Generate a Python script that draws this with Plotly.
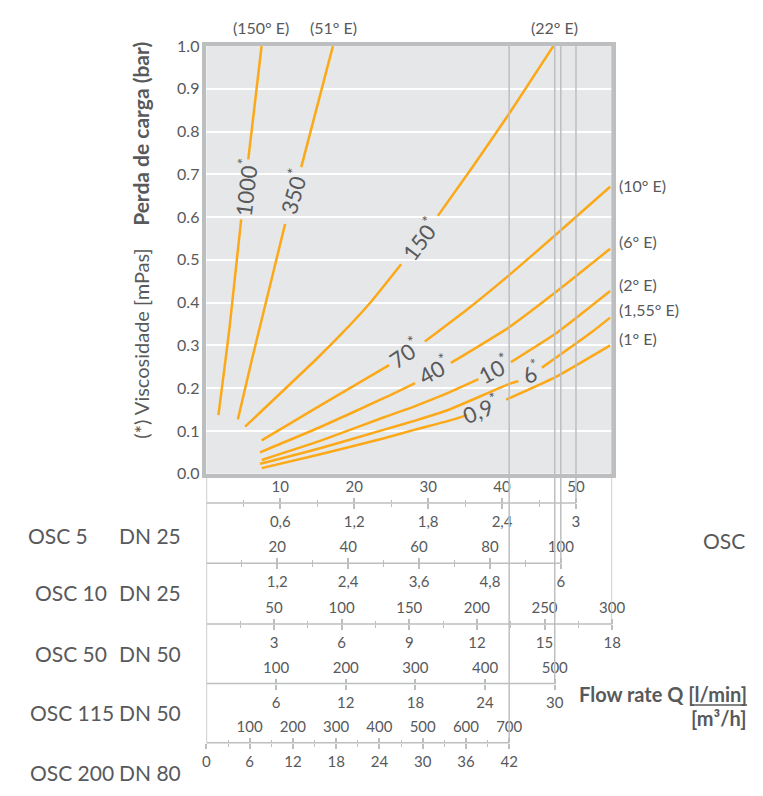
import plotly.graph_objects as go

W, H = 763, 796

# ---------------- data (x in OSC 5 l/min units, y in bar) ----------------
c1000_x = [1.63, 2.74, 3.17, 4.72, None, 5.68, 7.48]
c1000_y = [0.137, 0.286, 0.347, 0.595, None, 0.735, 1.0]

c350_x = [4.27, 6.17, 10.67, None, 12.86, 17.15]
c350_y = [0.127, 0.267, 0.584, None, 0.717, 1.0]

c150_x = [5.25, 14.85, 18.60, 22.12, 26.40, None, 31.37, 36.22, 41.08, 47.03]
c150_y = [0.110, 0.267, 0.332, 0.398, 0.490, None, 0.603, 0.721, 0.843, 1.0]

c70_x = [7.50, 15.30, 24.76, None, 29.61, 35.34, 41.08, 47.24, 54.73]
c70_y = [0.078, 0.158, 0.254, None, 0.309, 0.384, 0.465, 0.557, 0.671]

c40_x = [7.27, 15.30, 24.10, 28.29, None, 33.14, 41.08, 47.24, 54.73]
c40_y = [0.050, 0.108, 0.177, 0.212, None, 0.259, 0.343, 0.423, 0.526]

c10_x = [7.50, 15.30, 24.10, 28.29, 32.92, 36.88, None, 41.29, 47.70, 54.73]
c10_y = [0.032, 0.076, 0.132, 0.158, 0.190, 0.221, None, 0.261, 0.332, 0.427]

c6_x = [7.27, 15.30, 24.10, 28.29, 32.92, 41.08, 42.30, None, 45.48, 52.30, 54.73]
c6_y = [0.023, 0.059, 0.103, 0.124, 0.150, 0.210, 0.216, None, 0.248, 0.332, 0.365]

c09_x = [7.50, 15.30, 24.10, 28.29, 32.92, 35.34, None, 40.63, 47.24, 54.73]
c09_y = [0.013, 0.045, 0.083, 0.103, 0.124, 0.137, None, 0.173, 0.225, 0.300]

curves_x = [c1000_x, c350_x, c150_x, c70_x, c40_x, c10_x, c6_x, c09_x]
curves_y = [c1000_y, c350_y, c150_y, c70_y, c40_y, c10_y, c6_y, c09_y]

visc_labels = ["1000", "350", "150", "70", "40", "10", "6", "0,9"]
engler_top = ["(150° E)", "(51° E)", "(22° E)"]
engler_right = ["(10° E)", "(6° E)", "(2° E)", "(1,55° E)", "(1° E)"]

y_ticks = [0.0, 0.1, 0.2, 0.3, 0.4, 0.5, 0.6, 0.7, 0.8, 0.9, 1.0]

# flow scales: l/min ticks (top) and m3/h ticks (bottom)
pump_names = ["OSC 5", "OSC 10", "OSC 50", "OSC 115", "OSC 200"]
pump_dn = ["DN 25", "DN 25", "DN 50", "DN 50", "DN 80"]
lmin_ticks = [
    [10, 20, 30, 40, 50],
    [20, 40, 60, 80, 100],
    [50, 100, 150, 200, 250, 300],
    [100, 200, 300, 400, 500],
    [100, 200, 300, 400, 500, 600, 700],
]
lmin_minor = [
    [5, 15, 25, 35, 45],
    [10, 30, 50, 70, 90],
    [25, 75, 125, 175, 225, 275],
    [],
    [50, 150, 250, 350, 450, 550, 650],
]
m3h_ticks = [
    [0.6, 1.2, 1.8, 2.4, 3],
    [1.2, 2.4, 3.6, 4.8, 6],
    [3, 6, 9, 12, 15, 18],
    [6, 12, 18, 24, 30],
    [0, 6, 12, 18, 24, 30, 36, 42],
]
lmin_max = [50, 100, 300, 500, 700]

# ---------------- layout helpers ----------------
def px(x):
    return x / W

def py(y):
    return (H - y) / H

X0, X1 = 207, 622
Y_TOP, Y_BOT = 37, 475
scale_end_px = [585, 569.5, 622, 563.3, 516.7]
scale_line_px = [505, 566.7, 629, 690, 750.7]
label_rows_px = [538, 597, 659, 720, 781]
name_left_px = [25, 32, 32, 27, 27]

TXT = "#58595B"
GRAY = "#BDBEC0"
ORANGE = "#FBA919"
FONT = "Lato"

fig = go.Figure()
for cx, cy in zip(curves_x, curves_y):
    fig.add_trace(go.Scatter(x=cx, y=cy, mode="lines",
                             line=dict(color=ORANGE, width=2.5, shape="spline", smoothing=0.5),
                             connectgaps=False, showlegend=False, hoverinfo="skip"))

layout = dict(
    width=W, height=H, margin=dict(l=0, r=0, t=0, b=0),
    paper_bgcolor="white", plot_bgcolor="#E6E7E8",
    font=dict(family=FONT, color=TXT, size=15),
    hovermode=False, showlegend=False,
    xaxis=dict(domain=[px(X0), px(X1)], range=[0, 55], showgrid=False, zeroline=False,
               showticklabels=False, ticks="", showline=True, mirror=True,
               linecolor=GRAY, linewidth=3.5),
    yaxis=dict(domain=[py(Y_BOT), py(Y_TOP)], range=[0, 1], tickvals=y_ticks,
               tickformat=".1f", showgrid=True, gridcolor="white", gridwidth=2,
               zeroline=False, showline=True, mirror=True, linecolor=GRAY, linewidth=3.5,
               ticks="", tickfont=dict(size=16, color=TXT)),
)

shapes = []
annotations = []
axis_id = 2
frac_w = X1 - X0


def fmt(v):
    return (f"{v:g}").replace(".", ",")


for i in range(5):
    end_frac = (scale_end_px[i] - X0) / frac_w
    R = lmin_max[i] / end_frac
    pos = py(scale_line_px[i])
    # top axis: l/min
    top_ref = f"x{axis_id}"
    layout[f"xaxis{axis_id}"] = dict(
        overlaying="x", anchor="free", position=pos, side="top", range=[0, R],
        showgrid=False, zeroline=False, showline=False,
        tickvals=lmin_ticks[i], ticktext=[fmt(v) for v in lmin_ticks[i]],
        ticks="outside", ticklen=5, tickwidth=1.5, tickcolor=GRAY,
        tickfont=dict(size=15, color=TXT),
        minor=dict(tickvals=lmin_minor[i], ticks="outside" if lmin_minor[i] else "",
                   ticklen=3, tickwidth=1, tickcolor=GRAY, showgrid=False),
    )
    fig.add_trace(go.Scatter(x=[None], y=[None], xaxis=top_ref, yaxis="y", mode="lines",
                             showlegend=False, hoverinfo="skip"))
    axis_id += 1
    # bottom axis: m3/h
    bot_ref = f"x{axis_id}"
    layout[f"xaxis{axis_id}"] = dict(
        overlaying="x", anchor="free", position=pos, side="bottom", range=[0, R * 0.06],
        showgrid=False, zeroline=False, showline=False,
        tickvals=m3h_ticks[i], ticktext=[fmt(v) for v in m3h_ticks[i]],
        ticks="outside", ticklen=5, tickwidth=1.5, tickcolor=GRAY,
        tickfont=dict(size=15, color=TXT),
        minor=dict(tickvals=[v * 0.06 for v in lmin_minor[i]],
                   ticks="outside" if lmin_minor[i] else "",
                   ticklen=3, tickwidth=1, tickcolor=GRAY, showgrid=False),
    )
    fig.add_trace(go.Scatter(x=[None], y=[None], xaxis=bot_ref, yaxis="y", mode="lines",
                             showlegend=False, hoverinfo="skip"))
    axis_id += 1
    # axis line
    shapes.append(dict(type="line", xref=top_ref, yref="paper", x0=0, x1=lmin_max[i],
                       y0=pos, y1=pos, line=dict(color=GRAY, width=1.5), layer="above"))
    # vertical end line up to the top of the plot
    shapes.append(dict(type="line", xref=top_ref, yref="paper", x0=lmin_max[i], x1=lmin_max[i],
                       y0=pos, y1=py(Y_TOP), line=dict(color=GRAY, width=1.5), layer="above"))
    # pump labels
    annotations.append(dict(text=pump_names[i], xref="paper", yref="paper",
                            x=px(name_left_px[i] - 2), y=py(label_rows_px[i]),
                            xanchor="left", yanchor="middle", showarrow=False,
                            font=dict(size=21, color=TXT)))
    annotations.append(dict(text=pump_dn[i], xref="paper", yref="paper",
                            x=px(116), y=py(label_rows_px[i]),
                            xanchor="left", yanchor="middle", showarrow=False,
                            font=dict(size=21, color=TXT)))

# left vertical connector line
shapes.append(dict(type="line", xref="x", yref="paper", x0=0, x1=0,
                   y0=py(scale_line_px[4]), y1=py(Y_BOT), line=dict(color=GRAY, width=1.5),
                   layer="above"))

# curve labels (viscosity)
lab_pos = [(5.23, 0.670, -83), (11.76, 0.659, -74), (28.95, 0.551, -53), (26.83, 0.284, -34),
           (30.8, 0.243, -29), (39.0, 0.245, -28), (44.1, 0.238, -31), (37.2, 0.153, -22)]
for lab, (lx, ly, ang) in zip(visc_labels, lab_pos):
    annotations.append(dict(text=f"{lab}<sup>*</sup>", x=lx, y=ly, xref="x", yref="y",
                            textangle=ang, showarrow=False, xanchor="center", yanchor="middle",
                            font=dict(size=22, color=TXT)))

for lab, tx in zip(engler_top, [7.40, 17.19, 47.2]):
    annotations.append(dict(text=lab, x=tx, y=py(18), xref="x", yref="paper", showarrow=False,
                            xanchor="center", yanchor="middle", font=dict(size=16, color=TXT)))
for lab, ty in zip(engler_right, [0.675, 0.542, 0.442, 0.384, 0.316]):
    annotations.append(dict(text=lab, x=55, y=ty, xref="x", yref="y", xshift=5, showarrow=False,
                            xanchor="left", yanchor="middle", font=dict(size=16, color=TXT)))

# axis titles and other texts
annotations.append(dict(text="<b>Perda de carga (bar)</b>", xref="paper", yref="paper",
                        x=px(140), y=py(127), textangle=-90, showarrow=False,
                        xanchor="center", yanchor="middle", font=dict(size=21, color=TXT)))
annotations.append(dict(text="(*) Viscosidade [mPas]", xref="paper", yref="paper",
                        x=px(140), y=py(342), textangle=-90, showarrow=False,
                        xanchor="center", yanchor="middle", font=dict(size=20, color=TXT)))
annotations.append(dict(text="OSC", xref="paper", yref="paper", x=px(760), y=py(543),
                        xanchor="right", yanchor="middle", showarrow=False,
                        font=dict(size=21, color=TXT)))
annotations.append(dict(text="<b>Flow rate Q [l/min]</b>", xref="paper", yref="paper",
                        x=px(762), y=py(701), xanchor="right", yanchor="middle",
                        showarrow=False, font=dict(size=20, color=TXT)))
annotations.append(dict(text="<b>[m³/h]</b>", xref="paper", yref="paper",
                        x=px(762), y=py(725), xanchor="right", yanchor="middle",
                        showarrow=False, font=dict(size=20, color=TXT)))
shapes.append(dict(type="line", xref="paper", yref="paper", x0=px(702), x1=px(760),
                   y0=py(712), y1=py(712), line=dict(color=TXT, width=1.5)))

layout["shapes"] = shapes
layout["annotations"] = annotations
fig.update_layout(**layout)
fig.write_html("out.html", config={"displayModeBar": False},
               post_script="document.body.style.margin='0';document.body.style.overflow='hidden';")
